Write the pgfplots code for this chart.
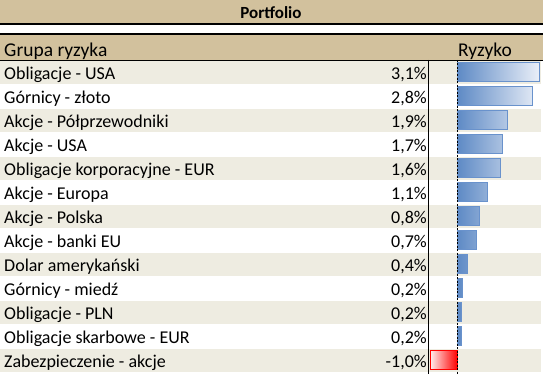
\documentclass[border=0pt]{standalone}
\usepackage{pgfplots}
\pgfplotsset{compat=1.18}
\usepackage{fontspec}
\setmainfont{Carlito}
\definecolor{titletan}{RGB}{210,193,157}
\definecolor{rowbeige}{RGB}{238,236,225}
\definecolor{blueA}{RGB}{94,138,197}
\definecolor{blueB}{RGB}{234,239,248}
\definecolor{blueE}{RGB}{105,146,204}
\definecolor{redA}{RGB}{255,0,0}
\definecolor{redB}{RGB}{255,232,232}
\newcommand{\rowfont}{\fontsize{18}{21}\selectfont}
\begin{document}
\begin{tikzpicture}
\path[use as bounding box] (0,0) rectangle (543pt,374pt);
% background / table layout in pixel coordinates
\begin{axis}[at={(0,0)},anchor=south west,width=543pt,height=374pt,scale only axis,
  xmin=0,xmax=543,ymin=0,ymax=374,y dir=reverse,hide axis,clip=false]
\fill[titletan] (axis cs:0,0) rectangle (axis cs:543,24);
\draw[black,line width=1.3pt] (axis cs:0,24) -- (axis cs:543,24);
\fill[titletan] (axis cs:0,34) rectangle (axis cs:543,60);
\draw[black,line width=1.5pt] (axis cs:0,34) -- (axis cs:543,34);
\draw[black,line width=1pt] (axis cs:0,60.5) -- (axis cs:543,60.5);
\pgfplotsinvokeforeach{1,3,5,7,9,11,13}{
  \fill[rowbeige] (axis cs:0,{61+24*(#1-1)}) rectangle (axis cs:541,{60+24*#1});
}
\node[font=\fontsize{17}{19}\selectfont\bfseries,anchor=base] at (axis cs:271,18.5) {Portfolio};
\node[font=\fontsize{19.5}{22}\selectfont,anchor=base west,inner sep=0pt] at (axis cs:4,56.5) {Grupa ryzyka};
\node[font=\fontsize{19.5}{22}\selectfont,anchor=base,inner sep=0pt] at (axis cs:485,56.5) {Ryzyko};
\end{axis}
% names and values column
\begin{axis}[at={(0,0)},anchor=south west,width=543pt,height=374pt,scale only axis,
  xmin=0,xmax=543,ymin=-2,ymax=13.5833,y dir=reverse,hide axis,clip=false]
\addplot[only marks,mark=none,
  nodes near coords={\pgfmathprintnumber[fixed,fixed zerofill,precision=1,use comma,assume math mode=true]{\pgfplotspointmeta}\%},
  nodes near coords style={anchor=base east,font=\rowfont,inner sep=0pt,yshift=-7.5pt},
  point meta=explicit]
  coordinates {(427,1)[3.1] (427,2)[2.8] (427,3)[1.9] (427,4)[1.7] (427,5)[1.6] (427,6)[1.1]
   (427,7)[0.8] (427,8)[0.7] (427,9)[0.4] (427,10)[0.2] (427,11)[0.2] (427,12)[0.2] (427,13)[-1.0]};
\node[font=\rowfont,anchor=base west,inner sep=0pt,yshift=-7.5pt] at (axis cs:4,1) {Obligacje - USA};
\node[font=\rowfont,anchor=base west,inner sep=0pt,yshift=-7.5pt] at (axis cs:4,2) {Górnicy - złoto};
\node[font=\rowfont,anchor=base west,inner sep=0pt,yshift=-7.5pt] at (axis cs:4,3) {Akcje - Półprzewodniki};
\node[font=\rowfont,anchor=base west,inner sep=0pt,yshift=-7.5pt] at (axis cs:4,4) {Akcje - USA};
\node[font=\rowfont,anchor=base west,inner sep=0pt,yshift=-7.5pt] at (axis cs:4,5) {Obligacje korporacyjne - EUR};
\node[font=\rowfont,anchor=base west,inner sep=0pt,yshift=-7.5pt] at (axis cs:4,6) {Akcje - Europa};
\node[font=\rowfont,anchor=base west,inner sep=0pt,yshift=-7.5pt] at (axis cs:4,7) {Akcje - Polska};
\node[font=\rowfont,anchor=base west,inner sep=0pt,yshift=-7.5pt] at (axis cs:4,8) {Akcje - banki EU};
\node[font=\rowfont,anchor=base west,inner sep=0pt,yshift=-7.5pt] at (axis cs:4,9) {Dolar amerykański};
\node[font=\rowfont,anchor=base west,inner sep=0pt,yshift=-7.5pt] at (axis cs:4,10) {Górnicy - miedź};
\node[font=\rowfont,anchor=base west,inner sep=0pt,yshift=-7.5pt] at (axis cs:4,11) {Obligacje - PLN};
\node[font=\rowfont,anchor=base west,inner sep=0pt,yshift=-7.5pt] at (axis cs:4,12) {Obligacje skarbowe - EUR};
\node[font=\rowfont,anchor=base west,inner sep=0pt,yshift=-7.5pt] at (axis cs:4,13) {Zabezpieczenie - akcje};
\end{axis}
% data bars
\begin{axis}[at={(0,0)},anchor=south west,width=543pt,height=374pt,scale only axis,
  xmin=-17.289,xmax=3.240,ymin=-2,ymax=13.5833,y dir=reverse,hide axis,clip=false]
\addplot[xbar,bar width=0.8,bar shift=0pt,draw=blueE,line width=0.9pt,left color=blueA,right color=blueB]
  coordinates {(3.1,1) (2.84,2) (1.9,3) (1.72,4) (1.64,5) (1.14,6) (0.84,7) (0.72,8) (0.4,9) (0.2,10) (0.17,11) (0.17,12)};
\addplot[xbar,bar width=0.8,bar shift=0pt,draw=redA,line width=0.9pt,left color=redB,right color=redA]
  coordinates {(-1.0,13)};
\draw[black,line width=1pt] (axis cs:-1.076,0.5) -- (axis cs:-1.076,13.5833);
\draw[black,line width=0.9pt,dash pattern=on 2pt off 1.5pt] (axis cs:0,0.5) -- (axis cs:0,13.5833);
\end{axis}
\end{tikzpicture}
\end{document}
